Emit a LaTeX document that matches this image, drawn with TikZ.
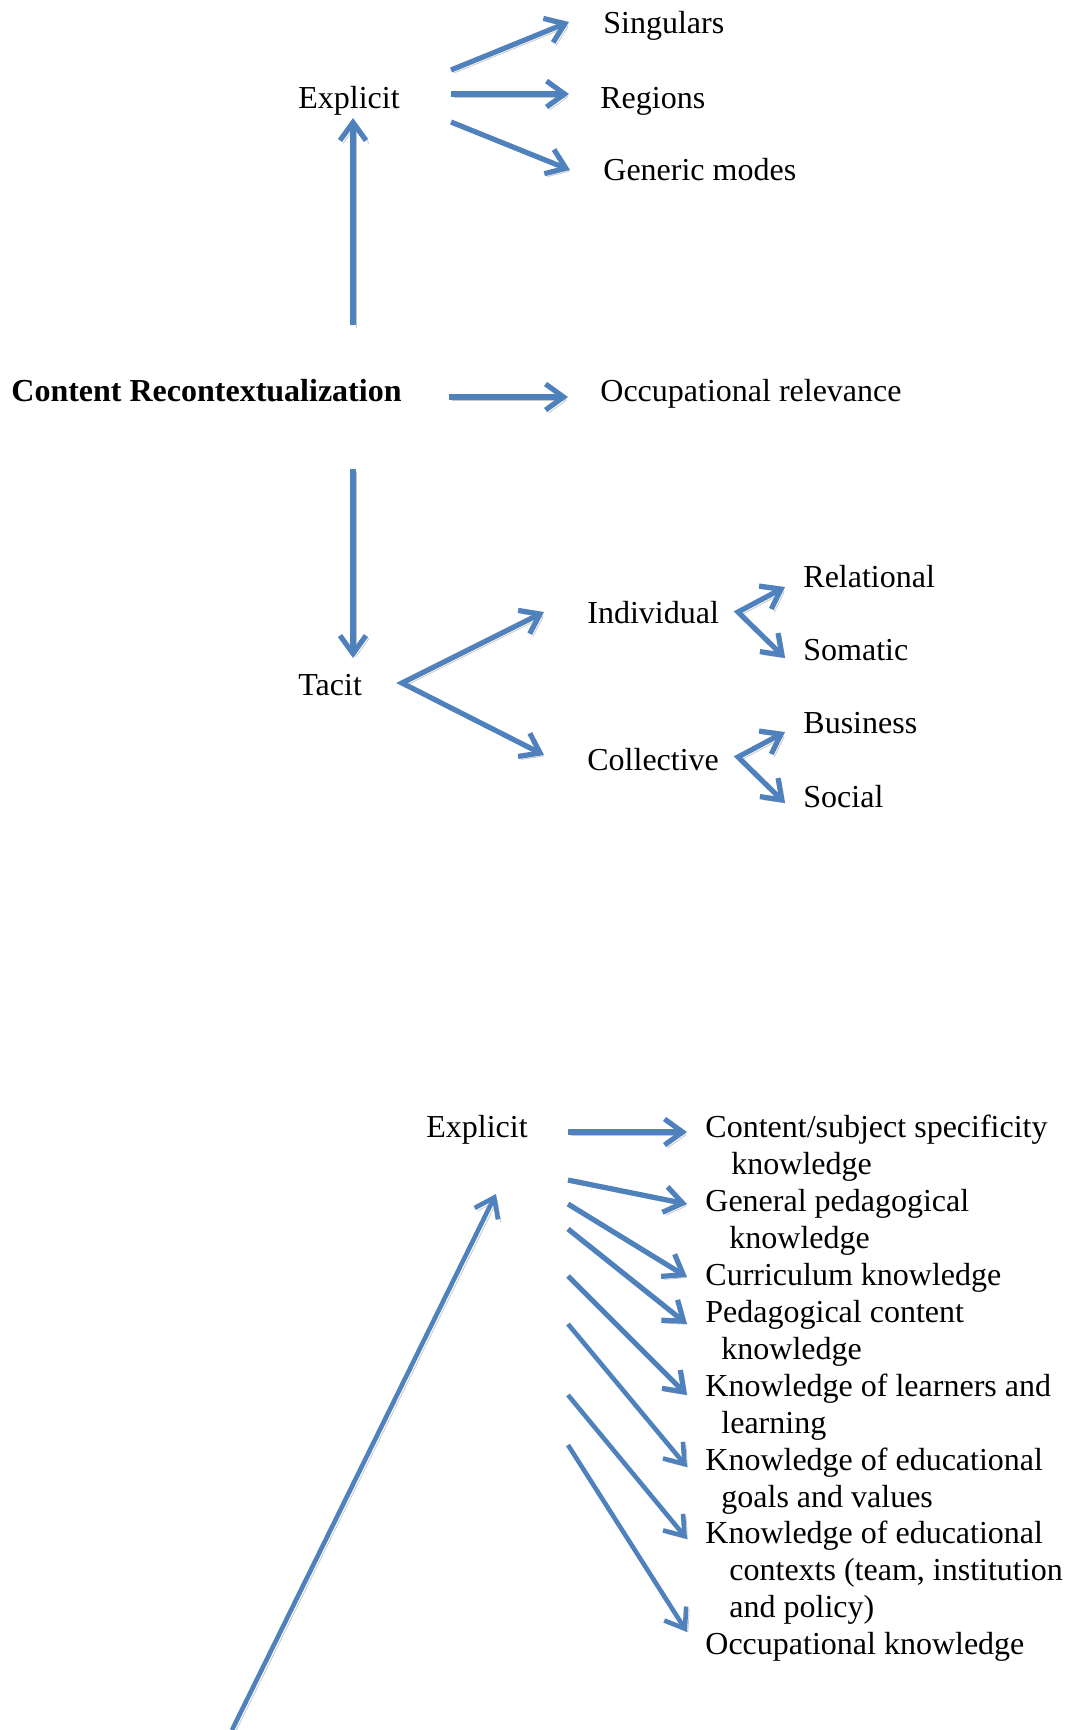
\documentclass[tikz,border=0pt]{standalone}
\usepackage{fontspec}
\setmainfont{Liberation Serif}
\usetikzlibrary{arrows.meta,calc}
\definecolor{arrblue}{HTML}{4F81BD}

\begin{document}
\begin{tikzpicture}[x=0.5pt,y=-0.5pt,>={Straight Barb[length=9pt,width=13pt]},
  lbl/.style={anchor=base west,inner sep=0pt,font=\fontsize{16}{18.5}\selectfont},
  arr/.style={->,draw=arrblue,line width=2.6pt,
    preaction={draw=black!22,transform canvas={shift={(1.5pt,-1.5pt)}}}},
  thinarr/.style={arr,line width=2.3pt}]
\useasboundingbox (0,0) rectangle (1071,1730);

% upper part
\node[lbl,font=\fontsize{16}{18.5}\selectfont\bfseries] (cr) at (11,401) {Content Recontextualization};
\node[lbl] (occ) at (600,401) {Occupational relevance};
\node[lbl] (explA) at (298,108) {Explicit};
\node[lbl] (sing) at (603,33) {Singulars};
\node[lbl] (regi) at (600,108) {Regions};
\node[lbl] (gene) at (603,180) {Generic modes};
\node[lbl] (tacit) at (298,695) {Tacit};
\node[lbl] (indiv) at (587,623) {Individual};
\node[lbl] (coll) at (587,770) {Collective};
\node[lbl] (rel) at (803,587) {Relational};
\node[lbl] (som) at (803,660) {Somatic};
\node[lbl] (bus) at (803,733) {Business};
\node[lbl] (soc) at (803,807) {Social};

\draw[arr] ($(cr.base west)+(342,-76)$) -- ($(explA.base west)+(55,10)$);
\draw[arr] ($(cr.base west)+(438,-4)$) -- ($(occ.base west)+(-32,-4)$);
\draw[arr] ($(cr.base west)+(342,68)$) -- ($(tacit.base west)+(55,-37)$);
\foreach \dst/\sy/\ex/\ey in {sing/-38/-34/-11, regi/-14/-31/-14, gene/14/-33/-10}
  \draw[arr] ($(explA.base west)+(153,\sy)$) -- ($(\dst.base west)+(\ex,\ey)$);
\draw[arr,<->] ($(indiv.base west)+(-43,-11)$) -- ($(tacit.base west)+(104,-12)$)
  -- ($(coll.base west)+(-43,-15)$);
\draw[arr,<->] ($(rel.base west)+(-18,0)$) -- ($(indiv.base west)+(151,-11)$)
  -- ($(som.base west)+(-18,-2)$);
\draw[arr,<->] ($(bus.base west)+(-18,-1)$) -- ($(coll.base west)+(151,-13)$)
  -- ($(soc.base west)+(-18,-4)$);

% lower part
\node[lbl] (explB) at (426,1137) {Explicit};
\node[lbl] (csk) at (705,1137) {\begin{tabular}[t]{@{}l@{}}Content/subject specificity\\\hspace*{13pt}knowledge\end{tabular}};
\node[lbl] (gpk) at (705,1211) {\begin{tabular}[t]{@{}l@{}}General pedagogical\\\hspace*{12pt}knowledge\end{tabular}};
\node[lbl] (ck) at (705,1285) {Curriculum knowledge};
\node[lbl] (pck) at (705,1322) {\begin{tabular}[t]{@{}l@{}}Pedagogical content\\\hspace*{8pt}knowledge\end{tabular}};
\node[lbl] (kll) at (705,1396) {\begin{tabular}[t]{@{}l@{}}Knowledge of learners and\\\hspace*{8pt}learning\end{tabular}};
\node[lbl] (kegv) at (705,1470) {\begin{tabular}[t]{@{}l@{}}Knowledge of educational\\\hspace*{8pt}goals and values\end{tabular}};
\node[lbl] (kec) at (705,1543) {\begin{tabular}[t]{@{}l@{}}Knowledge of educational\\\hspace*{12pt}contexts (team, institution\\\hspace*{12pt}and policy)\end{tabular}};
\node[lbl] (ok) at (705,1654) {Occupational knowledge};

\foreach \dst/\sy/\ey in {csk/-5/-5, gpk/43/-7, ck/67/-8, pck/92/2, kll/139/-1}
  \draw[arr] ($(explB.base west)+(142,\sy)$) -- ($(\dst.base west)+(-18,\ey)$);
\foreach \dst/\sy/\ey in {kegv/187/-3, kec/258/-4, ok/308/-22}
  \draw[thinarr] ($(explB.base west)+(142,\sy)$) -- ($(\dst.base west)+(-18,\ey)$);
\coordinate (foot) at (232,1730);
\draw[thinarr] (foot) -- ($(explB.base west)+(70,57)$);
\end{tikzpicture}
\end{document}
